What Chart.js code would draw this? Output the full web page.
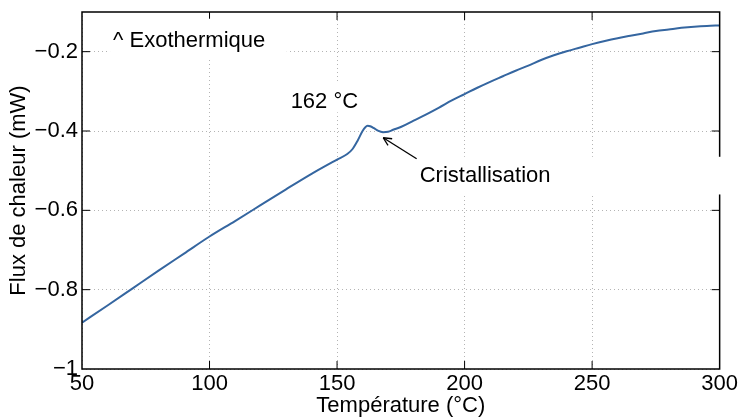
<!DOCTYPE html>
<html>
<head>
<meta charset="utf-8">
<script src="https://cdn.jsdelivr.net/npm/chart.js@4.4.0/dist/chart.umd.min.js"></script>
<style>
  html, body { margin: 0; padding: 0; background: #fff; }
</style>
</head>
<body>
<canvas id="c" width="740" height="419"></canvas>
<script>
// DSC trace
const temperatures = [50, 60, 70, 80, 90, 100, 110, 120, 130, 140, 150, 154, 156, 158, 160, 161, 162, 163, 164.5, 166, 168, 170, 172, 175,
  180, 185, 190, 195, 200, 205, 210, 215, 220, 225, 230, 235, 240, 245, 250, 255, 260, 265, 270, 275, 280, 285, 290, 295, 300];
const heatFlow = [-0.883, -0.840, -0.796, -0.752, -0.709, -0.666, -0.627, -0.587, -0.547, -0.508, -0.472, -0.458, -0.446, -0.425, -0.400, -0.391, -0.387, -0.388, -0.393, -0.399, -0.403, -0.402, -0.397, -0.390,
  -0.374, -0.358, -0.341, -0.323, -0.307, -0.291, -0.276, -0.262, -0.248, -0.235, -0.221, -0.209, -0.199, -0.190, -0.181, -0.173, -0.166, -0.160, -0.154, -0.148, -0.144, -0.140, -0.137, -0.135, -0.134];
const xTicks = [50, 100, 150, 200, 250, 300];
const yTicks = [-1, -0.8, -0.6, -0.4, -0.2];

const FONT = '"Liberation Sans", Arial, Helvetica, sans-serif';

// text labels, in data units
const notes = [
  { text: '^ Exothermique', at: [62.2, -0.189], box: [61, 130.3, -0.218, -0.117] },
  { text: '162 °C', at: [131.8, -0.341], box: [129.5, 159.7, -0.353, -0.277] },
  { text: 'Cristallisation', at: [182.4, -0.529], box: [178.5, 302, -0.560, -0.465] }
];
const arrow = { from: [181.2, -0.470], to: [168.1, -0.417] };

const framePlugin = {
  id: 'frame',
  afterDraw(chart) {
    const { ctx, chartArea: a, scales: { x, y } } = chart;
    const line = (x1, y1, x2, y2) => { ctx.beginPath(); ctx.moveTo(x1, y1); ctx.lineTo(x2, y2); ctx.stroke(); };
    ctx.save();
    ctx.strokeStyle = '#000';
    ctx.lineWidth = 1;
    // matlab style ticks on the inside
    xTicks.slice(1, -1).forEach(v => {
      const px = x.getPixelForValue(v);
      line(px, a.top, px, a.top + 8);
      line(px, a.bottom, px, a.bottom - 8);
    });
    yTicks.slice(1).forEach(v => {
      const py = y.getPixelForValue(v);
      line(a.left, py, a.left + 8, py);
      line(a.right, py, a.right - 8, py);
    });
    ctx.lineWidth = 1.5;
    ctx.strokeRect(a.left, a.top, a.right - a.left, a.bottom - a.top);

    // white boxes behind the labels
    ctx.fillStyle = '#fff';
    notes.forEach(n => {
      const x1 = x.getPixelForValue(n.box[0]), x2 = x.getPixelForValue(n.box[1]);
      const y1 = y.getPixelForValue(n.box[3]), y2 = y.getPixelForValue(n.box[2]);
      ctx.fillRect(x1, y1, x2 - x1, y2 - y1);
    });
    ctx.fillStyle = '#000';
    ctx.font = '22px ' + FONT;
    ctx.textAlign = 'left';
    ctx.textBaseline = 'alphabetic';
    notes.forEach(n => ctx.fillText(n.text, x.getPixelForValue(n.at[0]), y.getPixelForValue(n.at[1])));

    // arrow
    const fx = x.getPixelForValue(arrow.from[0]), fy = y.getPixelForValue(arrow.from[1]);
    const tx = x.getPixelForValue(arrow.to[0]), ty = y.getPixelForValue(arrow.to[1]);
    ctx.lineWidth = 1.3;
    line(fx, fy, tx, ty);
    const ang = Math.atan2(ty - fy, tx - fx);
    [0.45, -0.45].forEach(d => line(tx, ty, tx - 9 * Math.cos(ang + d), ty - 9 * Math.sin(ang + d)));
    ctx.restore();
  }
};

const gridStyle = { color: '#b4b4b4', lineWidth: 1, drawTicks: false };

new Chart(document.getElementById('c'), {
  type: 'line',
  data: {
    datasets: [{
      data: temperatures.map((t, i) => ({ x: t, y: heatFlow[i] })),
      borderColor: '#3566a0',
      borderWidth: 2,
      pointRadius: 0,
      tension: 0.3,
      cubicInterpolationMode: 'monotone',
      fill: false
    }]
  },
  options: {
    responsive: false,
    animation: false,
    layout: { padding: { top: 12, right: 20, left: 0, bottom: 0 } },
    plugins: { legend: { display: false }, tooltip: { enabled: false } },
    scales: {
      x: {
        type: 'linear',
        min: 50,
        max: 300,
        afterFit: s => { s.height = 50; },
        afterBuildTicks: s => { s.ticks = xTicks.map(v => ({ value: v })); },
        grid: gridStyle,
        border: { display: false, dash: [1, 3] },
        ticks: { color: '#000', padding: 2, font: { family: FONT, size: 22 }, maxRotation: 0 },
        title: { display: true, text: 'Température (°C)', color: '#000', padding: { top: 0, bottom: 0 }, font: { family: FONT, size: 22 } }
      },
      y: {
        type: 'linear',
        min: -1,
        max: -0.1,
        afterFit: s => { s.width = 82; s.paddingTop = 0; s.paddingBottom = 0; },
        afterBuildTicks: s => { s.ticks = yTicks.map(v => ({ value: v })); },
        grid: gridStyle,
        border: { display: false, dash: [1, 3] },
        ticks: {
          color: '#000', padding: 4, font: { family: FONT, size: 22 },
          callback: v => String(v).replace('-', '\u2212')
        },
        title: { display: true, text: 'Flux de chaleur (mW)', color: '#000', padding: { top: 6, bottom: 0 }, font: { family: FONT, size: 22 } }
      }
    }
  },
  plugins: [framePlugin]
});
</script>
</body>
</html>
